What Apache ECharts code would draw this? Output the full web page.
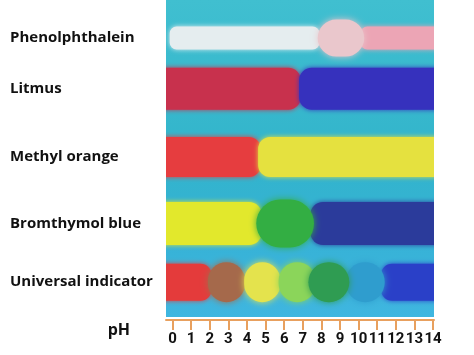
<!DOCTYPE html>
<html>
<head>
<meta charset="utf-8">
<script src="https://cdn.jsdelivr.net/npm/echarts@6/dist/echarts.min.js"></script>
<style>
  html, body { margin: 0; padding: 0; background: #fff; }
  #chart { width: 474px; height: 355px; }
</style>
</head>
<body>
<div id="chart"></div>
<script>
// indicator names and where each row sits on the (hidden) vertical axis
const indicators = ['Phenolphthalein', 'Litmus', 'Methyl orange', 'Bromthymol blue', 'Universal indicator'];
const rowValues = [1.2, 2.8, 4.95, 7.05, 8.9];
const phTicks = [0, 1, 2, 3, 4, 5, 6, 7, 8, 9, 10, 11, 12, 13, 14];

// colour segments per indicator: [from pH, to pH, colour, blob?]
const phenolphthalein = [[-0.15, 7.9, '#e5edef', 0], [10.1, 15, '#eca5b5', 0], [7.8, 10.3, '#eac7cc', 1]];
const litmus = [[-1.2, 6.9, '#c8314d', 0], [6.8, 15, '#3631bd', 0]];
const methylOrange = [[-1.2, 4.75, '#e63d3f', 0], [4.6, 15, '#e5e13f', 0]];
const bromthymolBlue = [[-1.2, 4.8, '#e2e82c', 0], [7.4, 15, '#2b3b9b', 0], [4.5, 7.6, '#33ae43', 1]];
const universalIndicator = [
  [-1.2, 2.1, '#e43b3b', 0], [11.2, 15, '#2a40c8', 0],
  [1.9, 3.9, '#a5694b', 1], [3.85, 5.8, '#e4e34d', 1], [5.7, 7.7, '#8bd55a', 1],
  [9.3, 11.4, '#2f9dce', 1], [7.3, 9.5, '#2f9c52', 1]
];
const segments = [phenolphthalein, litmus, methylOrange, bromthymolBlue, universalIndicator];

// band / blob thickness in px per row (styling)
const rowHeight = [23, 42, 40, 43, 37];
const blobHeight = [37, 42, 40, 48, 40];

let data = [];
segments.forEach((list, row) => {
  list.forEach(s => {
    data.push({ value: [s[0], s[1], rowValues[row], row, s[3]], itemStyle: { color: s[2] } });
  });
});

function renderItem (params, api) {
  let a = api.coord([api.value(0), api.value(2)]);
  let b = api.coord([api.value(1), api.value(2)]);
  let blob = api.value(4) === 1;
  let row = api.value(3);
  let h = blob ? blobHeight[row] : rowHeight[row];
  let color = api.visual('color');
  return {
    type: 'rect',
    shape: { x: a[0], y: a[1] - h / 2, width: b[0] - a[0], height: h, r: blob ? h / 2 : h * 0.3 },
    style: { fill: color, shadowBlur: blob ? 7 : 5, shadowColor: color }
  };
}

let myChart = echarts.init(document.getElementById('chart'));
myChart.setOption({
  animation: false,
  grid: {
    left: 166,
    right: 40,
    top: 0,
    bottom: 38,
    show: true,
    borderWidth: 0,
    backgroundColor: new echarts.graphic.LinearGradient(0, 0, 0, 1, [
      { offset: 0, color: '#40bfd0' },
      { offset: 0.5, color: '#32b4cb' },
      { offset: 0.75, color: '#36b2d6' },
      { offset: 1, color: '#3fb6e0' }
    ])
  },
  xAxis: {
    type: 'value',
    position: 'bottom',
    min: -0.35,
    max: 14.05,
    offset: 3,
    name: 'pH',
    nameLocation: 'start',
    nameGap: 36,
    nameTextStyle: { fontFamily: 'Open Sans', fontWeight: 'bold', fontSize: 16, color: '#111', verticalAlign: 'top', padding: [2, 0, 0, 0] },
    splitLine: { show: false },
    axisLine: { show: true, onZero: false, lineStyle: { color: '#e8a05e', width: 2 } },
    axisTick: { show: true, customValues: phTicks, length: 10, lineStyle: { color: '#e8a05e', width: 2 } },
    axisLabel: { customValues: phTicks, margin: 12, fontFamily: 'Roboto', fontWeight: 'bold', fontSize: 15, color: '#111' }
  },
  yAxis: {
    type: 'value',
    inverse: true,
    min: 0,
    max: 10,
    splitLine: { show: false },
    axisLine: { show: false },
    axisTick: { show: false },
    axisLabel: {
      customValues: rowValues,
      formatter: function (v) { return indicators[rowValues.indexOf(v)]; },
      align: 'left',
      margin: 156,
      fontFamily: 'Open Sans',
      fontWeight: 'bold',
      fontSize: 15,
      color: '#111'
    }
  },
  series: [{
    type: 'custom',
    clip: true,
    renderItem: renderItem,
    encode: { x: [0, 1], y: 2 },
    data: data
  }]
});
</script>
</body>
</html>
